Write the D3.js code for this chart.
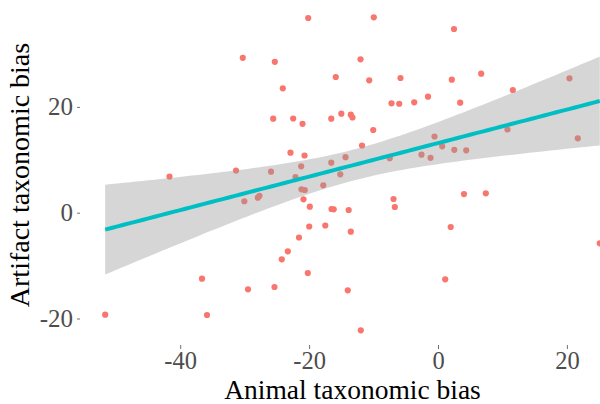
<!DOCTYPE html>
<html><head><meta charset="utf-8">
<script src="https://cdn.jsdelivr.net/npm/d3@7"></script>
<style>html,body{margin:0;padding:0;background:#fff;}svg{display:block;}</style>
</head><body>
<svg id="chart" width="600" height="404"></svg>
<script>
// Animal taxonomic bias (x) and Artifact taxonomic bias (y)
const animalBias = [-51.64,-41.66,-36.62,-35.84,-31.34,-30.29,-30.05,-29.48,-27.96,-27.70,
-25.91,-25.57,-25.32,-25.37,-24.24,-24.08,-23.30,-22.89,-22.47,-22.11,
-21.57,-21.23,-21.18,-21.02,-20.87,-20.71,-20.67,-20.20,-20.14,-19.98,
-19.89,-17.80,-17.49,-16.56,-16.56,-16.52,-16.18,-15.86,-15.16,-15.00,
-14.35,-14.00,-13.86,-13.53,-13.53,-13.27,-12.02,-11.98,-11.79,-10.67,
-10.05,-9.96,-7.49,-7.21,-6.90,-6.70,-6.02,-5.82,-3.69,-2.56,
-1.55,-1.16,-0.54,0.65,1.12,1.97,2.14,2.48,2.53,3.44,
4.03,4.38,6.70,7.42,10.78,11.61,20.40,21.69,25.10];
const artifactBias = [-19.28,6.84,-12.48,-19.34,7.98,29.28,2.16,-14.48,2.84,3.19,
7.75,17.77,28.53,-14.05,-8.81,23.52,-7.30,11.34,17.81,6.75,
-4.69,8.77,4.42,16.81,2.53,10.81,4.29,-11.40,36.81,-2.61,
1.13,5.18,-2.42,17.77,9.45,0.70,0.64,25.65,7.26,18.71,
10.49,-14.67,0.51,18.53,-3.59,18.00,29.00,-22.23,12.70,25.03,
15.63,36.94,10.30,20.68,2.59,1.08,20.60,25.46,20.87,10.96,
21.93,10.38,14.40,12.55,-12.59,-2.70,25.14,34.73,11.89,20.79,
3.53,11.80,26.28,3.67,15.73,23.19,25.41,14.06,-5.78];
const xTicks = [-40,-20,0,20];
const yTicks = [-20,0,20];
const xTitle = "Animal taxonomic bias";
const yTitle = "Artifact taxonomic bias";

const svg = d3.select("#chart");
const x = d3.scaleLinear().domain([-40,20]).range([180.2,566.9]);
const y = d3.scaleLinear().domain([-20,20]).range([318.5,106.9]);
const font = "'Liberation Serif','Times New Roman',serif";

// linear fit with 95% CI
const n = animalBias.length;
const mx = d3.mean(animalBias), my = d3.mean(artifactBias);
let sxx=0, sxy=0;
for (let i=0;i<n;i++){ sxx+=(animalBias[i]-mx)**2; sxy+=(animalBias[i]-mx)*(artifactBias[i]-my); }
const b = sxy/sxx, a = my - b*mx;
let sse=0; for (let i=0;i<n;i++){ sse += (artifactBias[i]-(a+b*animalBias[i]))**2; }
const s = Math.sqrt(sse/(n-2)), tq = 1.991;
const [xmin,xmax] = d3.extent(animalBias);
const grid = d3.range(0,81).map(k=> xmin + (xmax-xmin)*k/80);
const fit = grid.map(xv=>{ const f=a+b*xv; const se=s*Math.sqrt(1/n+(xv-mx)**2/sxx); return {x:xv,f,lo:f-tq*se,hi:f+tq*se}; });

const data = animalBias.map((v,i)=>({x:v,y:artifactBias[i]}));
svg.append("g").selectAll("circle").data(data).join("circle")
  .attr("cx",d=>x(d.x)).attr("cy",d=>y(d.y)).attr("r",3.1).attr("fill","#F8766D");

svg.append("path").datum(fit)
  .attr("d", d3.area().x(d=>x(d.x)).y0(d=>y(d.lo)).y1(d=>y(d.hi)))
  .attr("fill","#999999").attr("fill-opacity",0.4);
svg.append("path").datum(fit)
  .attr("d", d3.line().x(d=>x(d.x)).y(d=>y(d.f)))
  .attr("fill","none").attr("stroke","#00BFC4").attr("stroke-width",4);

// axes
const fmt = d => String(d);
const xAxis = d3.axisBottom(x).tickValues(xTicks).tickSize(4).tickPadding(3).tickFormat(fmt);
const gx = svg.append("g").attr("transform","translate(0,345)").call(xAxis);
gx.select(".domain").remove();
gx.selectAll("line").attr("stroke","#4d4d4d").attr("stroke-width",0.8);
gx.selectAll("text").attr("font-family",font).attr("font-size",24.5).attr("fill","#4d4d4d").attr("dy","0.71em");

const yAxis = d3.axisLeft(y).tickValues(yTicks).tickSize(3).tickPadding(4).tickFormat(fmt);
const gy = svg.append("g").attr("transform","translate(80,0)").call(yAxis);
gy.select(".domain").remove();
gy.selectAll("line").attr("stroke","#4d4d4d").attr("stroke-width",0.8);
gy.selectAll("text").attr("font-family",font).attr("font-size",25).attr("fill","#4d4d4d");

svg.append("text").attr("x",352.5).attr("y",399).attr("text-anchor","middle")
  .attr("font-family",font).attr("font-size",27.5).attr("fill","#000").text(xTitle);
svg.append("text").attr("transform","translate(28.5,175) rotate(-90)").attr("text-anchor","middle")
  .attr("font-family",font).attr("font-size",28).attr("fill","#000").text(yTitle);
</script>
</body></html>
